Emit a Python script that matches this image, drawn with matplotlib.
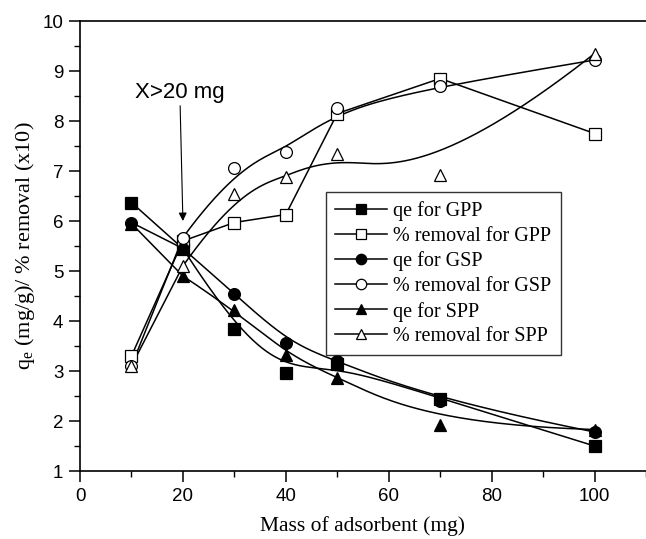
import numpy as np
import matplotlib
matplotlib.use("Agg")
import matplotlib.pyplot as plt
from matplotlib.ticker import MultipleLocator

# ---- data ----
mass = [10, 20, 30, 40, 50, 70, 100]
qe_gpp = [6.37, 5.45, 3.85, 2.97, 3.15, 2.45, 1.50]
rem_gpp = [3.30, 5.60, 5.97, 6.13, 8.15, 8.85, 7.75]
qe_gsp = [5.97, 5.45, 4.55, 3.57, 3.20, 2.40, 1.78]
rem_gsp = [3.10, 5.67, 7.07, 7.38, 8.27, 8.70, 9.22]
qe_spp = [5.95, 4.90, 4.22, 3.33, 2.87, 1.92, 1.83]
rem_spp = [3.10, 5.10, 6.55, 6.88, 7.35, 6.92, 9.35]

labels = ["qe for GPP", "% removal for GPP", "qe for GSP",
          "% removal for GSP", "qe for SPP", "% removal for SPP"]


def bspline(xs, ys, n=200):
    """Clamped cubic B-spline using the points as control points (display only)."""
    P = np.column_stack([xs, ys]).astype(float)
    k = 3
    m = len(P)
    inner = np.linspace(0, 1, m - k + 1)
    t = np.concatenate([[0] * k, inner, [1] * k])
    us = np.linspace(0, 1, n)
    out = []
    for u in us:
        if u >= 1:
            out.append(P[-1]); continue
        s = np.searchsorted(t, u, side='right') - 1
        d = [P[j + s - k].copy() for j in range(k + 1)]
        for r in range(1, k + 1):
            for j in range(k, r - 1, -1):
                den = t[j + 1 + s - r] - t[j + s - k]
                a = 0 if den == 0 else (u - t[j + s - k]) / den
                d[j] = (1 - a) * d[j - 1] + a * d[j]
        out.append(d[k])
    out = np.array(out)
    return out[:, 0], out[:, 1]


def smooth_line(xs, ys):
    bx, by = bspline(xs[1:], ys[1:])
    return np.concatenate([[xs[0]], bx]), np.concatenate([[ys[0]], by])


fig = plt.figure(figsize=(6.46, 5.39), dpi=100)
ax = fig.add_axes([80 / 646, 68 / 539, 566 / 646, 450 / 539])

ms = 8.5
series = [
    (qe_gpp, 's', 'black', True),
    (rem_gpp, 's', 'white', False),
    (qe_gsp, 'o', 'black', True),
    (rem_gsp, 'o', 'white', True),
    (qe_spp, '^', 'black', True),
    (rem_spp, '^', 'white', True),
]
handles = []
for (ys, mk, fc, smooth), lab in zip(series, labels):
    if smooth:
        lx, ly = smooth_line(mass, ys)
    else:
        lx, ly = mass, ys
    ax.plot(lx, ly, color='black', lw=1.1, zorder=2)
    ax.plot(mass, ys, linestyle='none', marker=mk, ms=ms, mfc=fc,
            mec='black', mew=0.9, zorder=3)
    h, = ax.plot([], [], color='black', lw=1.1, marker=mk, ms=ms - 1,
                 mfc=fc, mec='black', mew=0.9, label=lab)
    handles.append(h)

ax.set_xlim(0, 110)
ax.set_ylim(1, 10)
ax.xaxis.set_major_locator(MultipleLocator(20))
ax.xaxis.set_minor_locator(MultipleLocator(10))
ax.yaxis.set_major_locator(MultipleLocator(1))
ax.yaxis.set_minor_locator(MultipleLocator(0.5))
ax.tick_params(which='major', direction='out', length=8, width=1.1,
               labelsize=13.5, pad=4, top=False, right=False)
ax.tick_params(which='minor', direction='out', length=4, width=1.0,
               top=False, right=False)
for lab in ax.get_xticklabels() + ax.get_yticklabels():
    lab.set_fontfamily('Liberation Sans')
ax.spines['right'].set_visible(False)
for s in ['left', 'bottom', 'top']:
    ax.spines[s].set_linewidth(1.2)

ax.set_xlabel("Mass of adsorbent (mg)", fontfamily='Liberation Serif',
              fontsize=15.5, labelpad=8)
ax.set_ylabel(r"q$_\mathregular{e}$ (mg/g)/ % removal (x10)",
              fontfamily='Liberation Serif', fontsize=16, labelpad=4)

ax.annotate("X>20 mg", xy=(20.0, 6.0), xytext=(19.4, 8.36),
            fontsize=16, fontfamily='Liberation Sans', ha='center', va='bottom',
            arrowprops=dict(arrowstyle='-|>', color='black', lw=0.8,
                            mutation_scale=12, shrinkA=0, shrinkB=0))

leg = ax.legend(handles=handles, loc='upper left',
                bbox_to_anchor=(0.4346, 0.62), borderaxespad=0,
                prop={'family': 'Liberation Serif', 'size': 14.5},
                frameon=True, fancybox=False, edgecolor='black',
                handlelength=2.6, handletextpad=0.3, labelspacing=0.28,
                borderpad=0.45)
leg.get_frame().set_linewidth(1.0)

fig.savefig("out.png", dpi=100)
